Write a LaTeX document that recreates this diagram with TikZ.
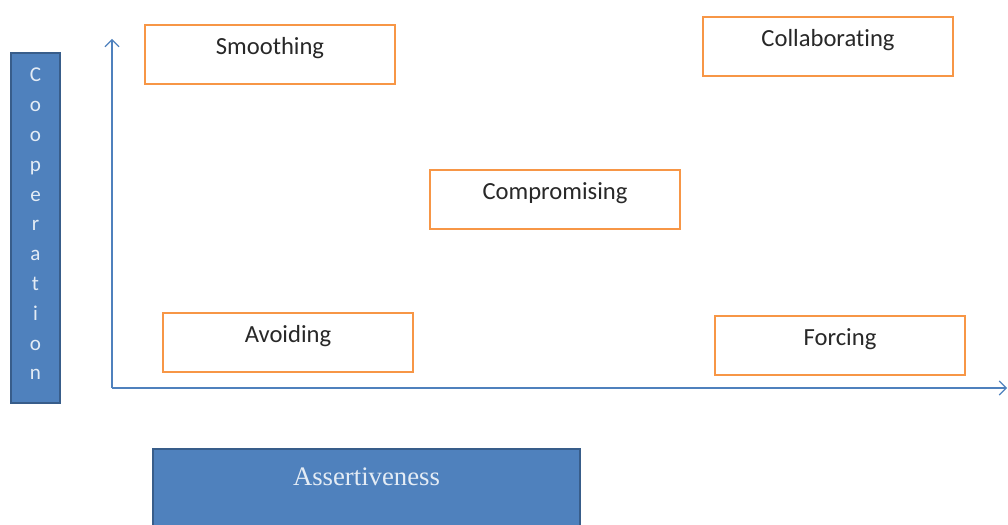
\documentclass[tikz,border=0pt]{standalone}
\usepackage{fontspec}
\usetikzlibrary{arrows.meta}
\setmainfont{Carlito}[Ligatures=NoCommon]
\newfontfamily\serifface{Liberation Serif}
\definecolor{boxorange}{RGB}{247,150,70}
\definecolor{boxblue}{RGB}{79,129,189}
\definecolor{bordblue}{RGB}{56,93,138}
\definecolor{txtgray}{RGB}{40,40,40}
\begin{document}
\begin{tikzpicture}[x=0.025cm, y=-0.025cm,
    box/.style={draw=boxorange, line width=2pt, fill=white, minimum width=6.25cm,
      minimum height=1.475cm, text height=0.4cm, text depth=0.4cm, inner sep=0pt,
      font=\fontsize{17.5}{20}\selectfont, text=txtgray},
    bluebox/.style={draw=bordblue, line width=1.5pt, fill=boxblue, inner sep=0pt},
    axis/.style={draw=boxblue, line width=0.8pt, -{Straight Barb[length=5pt, width=10pt]}}]
      \useasboundingbox (0, 0) rectangle (1008, 525);

      % axes
      \coordinate (origin) at (112, 388);
      \coordinate (ytop) at (112, 39);
      \coordinate (xend) at (1007, 388);
      \draw[axis] (origin) to (ytop);
      \draw[axis] (origin) to (xend);

      % the five styles
      \node[box] (smooth) at (270, 54.5){Smoothing};
      \node[box] (collab) at (828, 46.5){Collaborating};
      \node[box] (compro) at (555, 199.5){Compromising};
      \node[box] (avoid) at (288, 342.5){Avoiding};
      \node[box] (force) at (840, 345.5){Forcing};

      % axis labels
      \node[bluebox, minimum width=1.225cm, minimum height=8.75cm] (coop) at (35.5, 228){};
      \node[align=center, text=white!85!boxblue, font=\fontsize{15}{21.2}\selectfont]
        (cooptxt) at (35.5, 224){C\\o\\o\\p\\e\\r\\a\\t\\i\\o\\n};
      \node[bluebox, minimum width=10.675cm, minimum height=2cm] (assert) at (366.5, 489){};
      \node[text=white!85!boxblue, font=\serifface\fontsize{19}{22}\selectfont]
        (asserttxt) at (366.5, 477){Assertiveness};

    \end{tikzpicture}
\end{document}
